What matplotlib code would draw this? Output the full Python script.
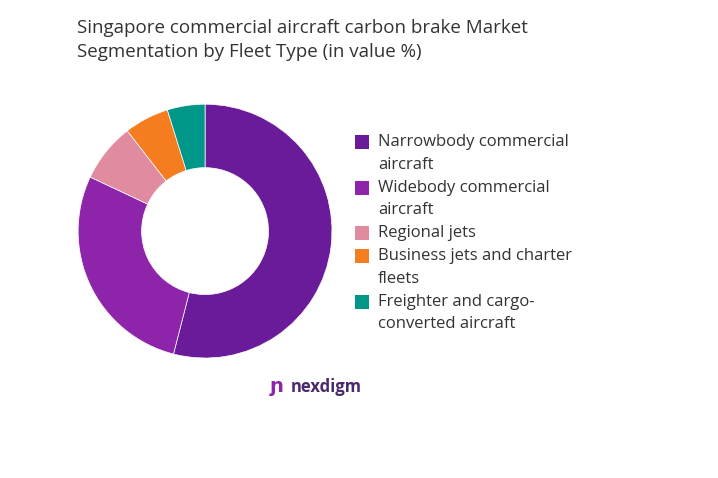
import matplotlib
matplotlib.use("Agg")
import matplotlib.pyplot as plt
from matplotlib.patches import Rectangle

labels = ["Narrowbody commercial\naircraft", "Widebody commercial\naircraft", "Regional jets",
          "Business jets and charter\nfleets", "Freighter and cargo-\nconverted aircraft"]
values = [54, 28, 7.5, 5.7, 4.8]
colors = ["#6A1B9A", "#8E24AA", "#E08BA0", "#F57C1F", "#009688"]

W, H = 718, 478
fig = plt.figure(figsize=(7.18, 4.78), dpi=100)
ax = fig.add_axes([0.1086, 0.251, 0.354, 0.531])
ax.pie(values, colors=colors, startangle=90, counterclock=False,
       wedgeprops=dict(width=0.5, edgecolor="white", linewidth=0.5))
ax.set_xlim(-1, 1); ax.set_ylim(-1, 1)
ax.set_aspect("equal")

fig.text(0.107, 0.96, "Singapore commercial aircraft carbon brake Market\nSegmentation by Fleet Type (in value %)",
         fontsize=13.5, color="#333333", va="top", family="Open Sans", linespacing=1.45)

# legend drawn as text rows, first line of each entry aligned with its swatch
line_h = 22.8
y = 142
for lab, c in zip(labels, colors):
    fig.patches.append(Rectangle(((355) / W, 1 - (y + 7) / H), 14 / W, 14 / H,
                                 transform=fig.transFigure, facecolor=c, edgecolor="none"))
    for i, ln in enumerate(lab.split("\n")):
        fig.text(378 / W, 1 - (y + i * line_h) / H, ln, fontsize=12, color="#333333",
                 va="center", family="Open Sans")
    y += line_h * (lab.count("\n") + 1)

fig.text(0.405, 0.18, "nexdigm", fontsize=12, color="#4B2A6B", weight="bold", ha="left", family="Open Sans")
fig.text(0.385, 0.18, "ɲ", fontsize=14, color="#8E24AA", ha="center", weight="bold")
fig.savefig("out.png", dpi=100, facecolor="white")
